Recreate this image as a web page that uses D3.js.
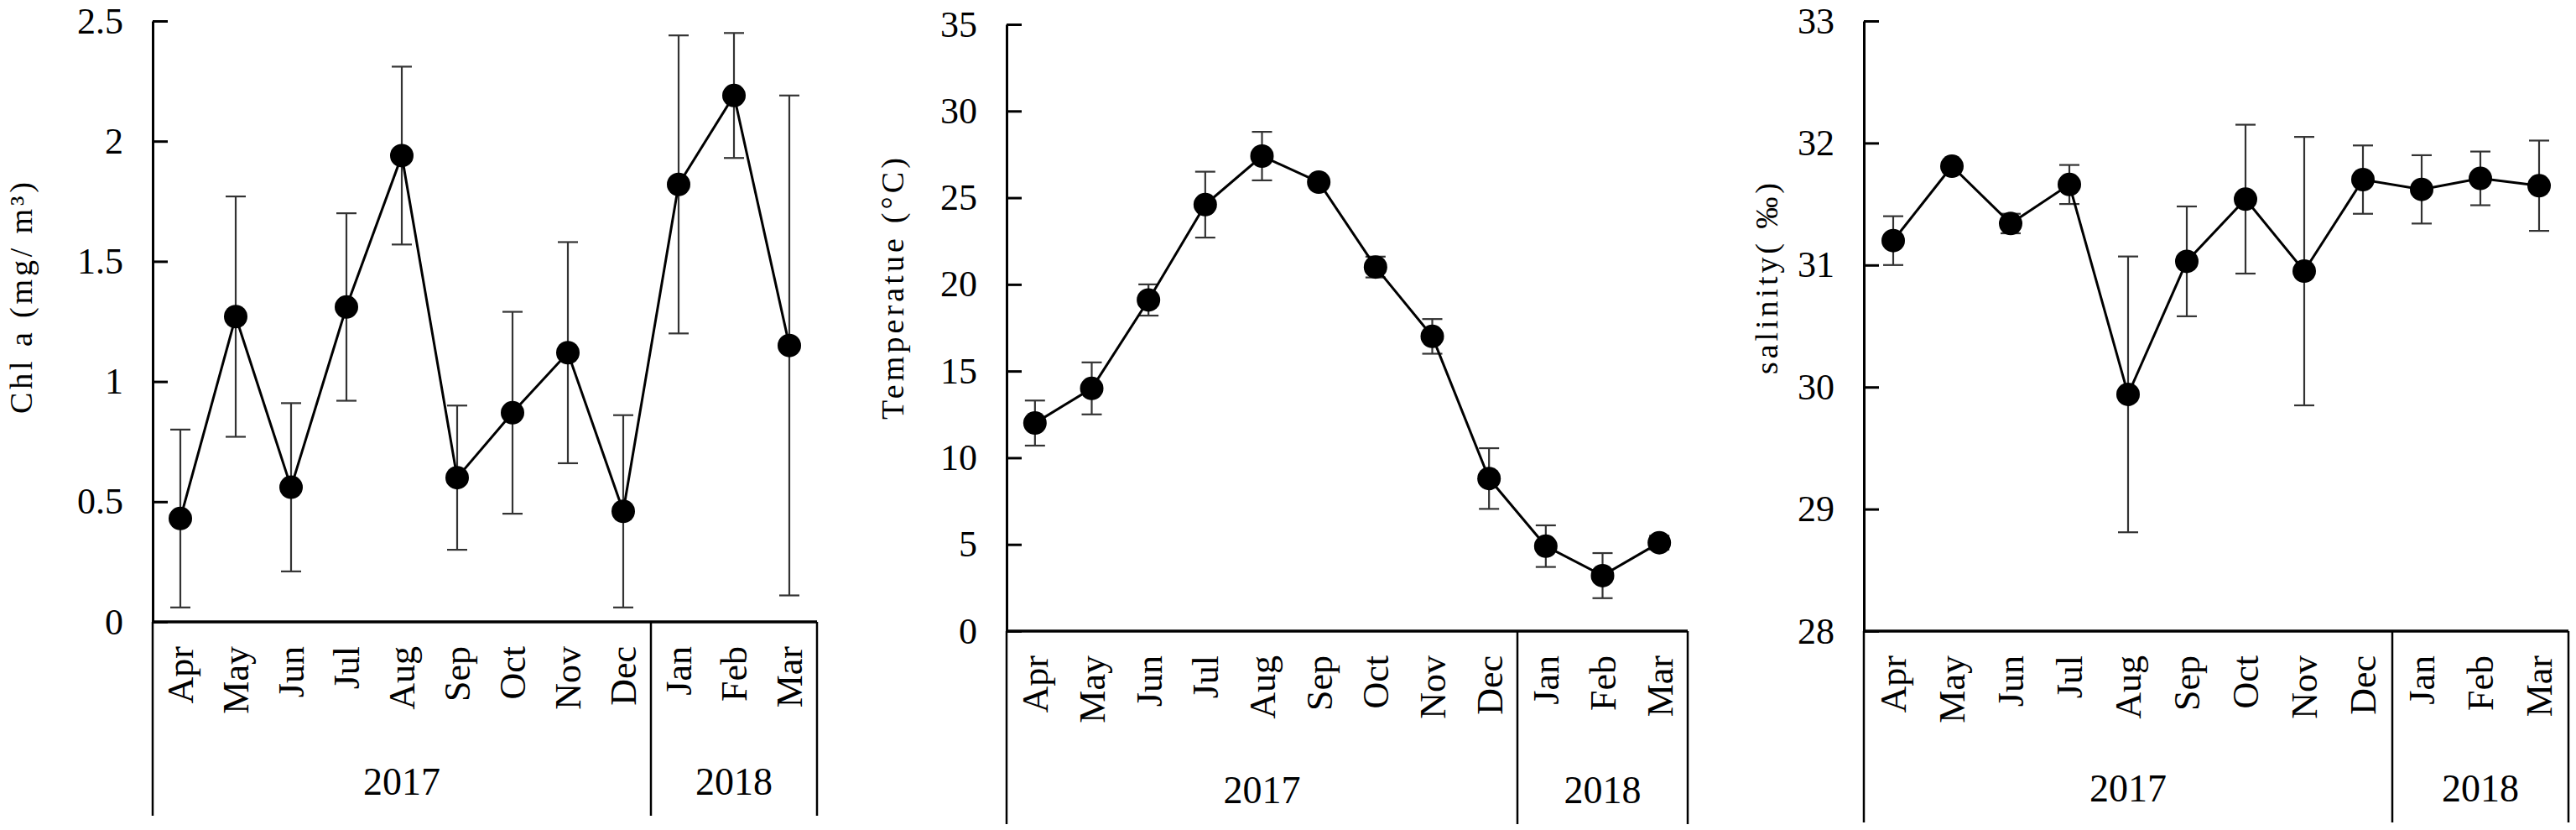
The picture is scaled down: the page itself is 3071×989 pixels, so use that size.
<!DOCTYPE html>
<html>
<head>
<meta charset="utf-8">
<script src="https://cdn.jsdelivr.net/npm/d3@7"></script>
<style>
body { margin: 0; background: #fff; }
text { font-family: "Liberation Serif", "Times New Roman", serif; fill: #000; }
</style>
</head>
<body>
<svg id="chart" width="3071" height="989"></svg>
<script>
// categories
var months = ['Apr', 'May', 'Jun', 'Jul', 'Aug', 'Sep', 'Oct', 'Nov', 'Dec', 'Jan', 'Feb', 'Mar'];
var monthYears = ['2017', '2017', '2017', '2017', '2017', '2017', '2017', '2017', '2017', '2018', '2018', '2018'];
var years = ['2017', '2018'];

// series (mean and sd)
var chlMean = [0.43, 1.27, 0.56, 1.31, 1.94, 0.60, 0.87, 1.12, 0.46, 1.82, 2.19, 1.15];
var chlSd   = [0.37, 0.50, 0.35, 0.39, 0.37, 0.30, 0.42, 0.46, 0.40, 0.62, 0.26, 1.04];
var tempMean = [12.0, 14.0, 19.1, 24.6, 27.4, 25.9, 21.0, 17.0, 8.8, 4.9, 3.2, 5.1];
var tempSd   = [1.3, 1.5, 0.9, 1.9, 1.4, 0.3, 0.6, 1.0, 1.75, 1.2, 1.3, 0.4];
var salMean = [31.20, 31.81, 31.34, 31.66, 29.94, 31.03, 31.54, 30.95, 31.70, 31.62, 31.71, 31.65];
var salSd   = [0.20, 0.04, 0.08, 0.16, 1.13, 0.45, 0.61, 1.10, 0.28, 0.28, 0.22, 0.37];

// tick values
var chlTicks = [0, 0.5, 1, 1.5, 2, 2.5];
var tempTicks = [0, 5, 10, 15, 20, 25, 30, 35];
var salTicks = [28, 29, 30, 31, 32, 33];

var panels = [
	{ mean: chlMean, sd: chlSd, ticks: chlTicks, title: 'Chl a (mg/ m³)',
	  left: 182, right: 974, top: 25, bottom: 741, base: 972, titleX: 38, titleY: 355, titleLen: 276 },
	{ mean: tempMean, sd: tempSd, ticks: tempTicks, title: 'Temperatue (°C)',
	  left: 1200, right: 2012, top: 29, bottom: 752, base: 982, titleX: 1077, titleY: 344, titleLen: 312 },
	{ mean: salMean, sd: salSd, ticks: salTicks, title: 'salinity( ‰)',
	  left: 2222, right: 3062, top: 25, bottom: 752, base: 980, titleX: 2119, titleY: 332, titleLen: 228 }
];

var svg = d3.select('#chart');

function drawPanel(p) {
	var g = svg.append('g').attr('class', 'panel');

	var x = d3.scaleBand().domain(months).range([p.left, p.right]);
	var bw = x.bandwidth();
	var cx = function(i) { return x(months[i]) + bw / 2; };
	var y = d3.scaleLinear().domain(d3.extent(p.ticks)).range([p.bottom, p.top]);

	// y axis, ticks pointing inward
	var axis = d3.axisLeft(y)
		.tickValues(p.ticks)
		.tickFormat(d3.format('~g'))
		.tickSizeInner(-18)
		.tickSizeOuter(0)
		.tickPadding(35);
	var ga = g.append('g').attr('transform', 'translate(' + p.left + ',0)').call(axis);
	ga.select('.domain').attr('stroke', '#000').attr('stroke-width', 3);
	ga.selectAll('.tick line').attr('stroke', '#000').attr('stroke-width', 3);
	ga.selectAll('.tick text')
		.style('font-family', '"Liberation Serif", serif')
		.attr('font-size', 44)
		.attr('fill', '#000');

	// x axis table
	g.append('line')
		.attr('x1', p.left).attr('x2', p.right)
		.attr('y1', p.bottom).attr('y2', p.bottom)
		.attr('stroke', '#000').attr('stroke-width', 3.5);
	var splits = [p.left, x('Jan'), p.right];
	g.selectAll('.split').data(splits).enter().append('line')
		.attr('class', 'split')
		.attr('x1', function(d) { return d; }).attr('x2', function(d) { return d; })
		.attr('y1', p.bottom).attr('y2', p.base)
		.attr('stroke', '#000').attr('stroke-width', 2.5);

	g.selectAll('.month').data(months).enter().append('text')
		.attr('class', 'month')
		.attr('transform', function(d) { return 'translate(' + (x(d) + bw / 2) + ',' + (p.bottom + 29) + ') rotate(-90)'; })
		.attr('dy', '0.35em')
		.attr('text-anchor', 'end')
		.attr('font-size', 44)
		.text(function(d) { return d; });

	g.selectAll('.year').data(years).enter().append('text')
		.attr('class', 'year')
		.attr('x', function(yr) {
			var idx = monthYears.map(function(v, i) { return v === yr ? i : -1; }).filter(function(i) { return i >= 0; });
			return (x(months[idx[0]]) + x(months[idx[idx.length - 1]]) + bw) / 2;
		})
		.attr('y', p.base - 25)
		.attr('text-anchor', 'middle')
		.attr('font-size', 46)
		.text(function(d) { return d; });

	// y title
	g.append('text')
		.attr('transform', 'translate(' + p.titleX + ',' + p.titleY + ') rotate(-90)')
		.attr('text-anchor', 'middle')
		.attr('font-size', 38)
		.attr('textLength', p.titleLen)
		.attr('lengthAdjust', 'spacing')
		.text(p.title);

	// error bars
	var eb = g.selectAll('.err').data(p.mean).enter().append('g').attr('class', 'err')
		.attr('stroke', '#333').attr('stroke-width', 2.2);
	eb.append('line')
		.attr('x1', function(d, i) { return cx(i); }).attr('x2', function(d, i) { return cx(i); })
		.attr('y1', function(d, i) { return y(d + p.sd[i]); })
		.attr('y2', function(d, i) { return y(d - p.sd[i]); });
	eb.append('line')
		.attr('x1', function(d, i) { return cx(i) - 12; }).attr('x2', function(d, i) { return cx(i) + 12; })
		.attr('y1', function(d, i) { return y(d + p.sd[i]); })
		.attr('y2', function(d, i) { return y(d + p.sd[i]); });
	eb.append('line')
		.attr('x1', function(d, i) { return cx(i) - 12; }).attr('x2', function(d, i) { return cx(i) + 12; })
		.attr('y1', function(d, i) { return y(d - p.sd[i]); })
		.attr('y2', function(d, i) { return y(d - p.sd[i]); });

	// line + dots
	var line = d3.line()
		.x(function(d, i) { return cx(i); })
		.y(function(d) { return y(d); });
	g.append('path').datum(p.mean)
		.attr('d', line)
		.attr('fill', 'none')
		.attr('stroke', '#000')
		.attr('stroke-width', 3);
	g.selectAll('.dot').data(p.mean).enter().append('circle')
		.attr('class', 'dot')
		.attr('cx', function(d, i) { return cx(i); })
		.attr('cy', function(d) { return y(d); })
		.attr('r', 14)
		.attr('fill', '#000');
}

panels.forEach(drawPanel);
</script>
</body>
</html>
